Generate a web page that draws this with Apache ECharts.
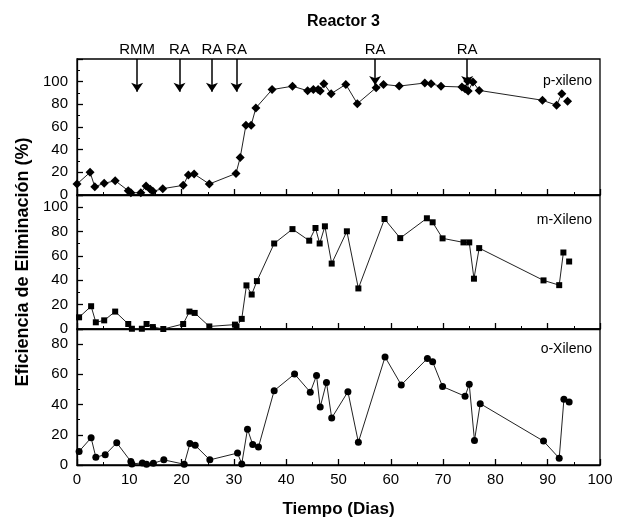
<!DOCTYPE html>
<html>
<head>
<meta charset="utf-8">
<script src="https://cdn.jsdelivr.net/npm/echarts@6/dist/echarts.min.js"></script>
<style>
  html, body { margin: 0; padding: 0; background: #fff; }
  #chart { width: 620px; height: 525px; }
</style>
</head>
<body>
<div id="chart"></div>
<script>
// p-xileno (top panel)
const pDays = [0, 2.5, 3.4, 5.2, 7.3, 9.8, 10.3, 12.2, 13.2, 14, 14.5, 16.4, 20.3, 21.3, 22.4, 25.3, 30.4, 31.2, 32.3, 33.3, 34.2, 37.3, 41.2, 44.1, 45.2, 46.1, 46.5, 47.2, 48.6, 51.4, 53.6, 57.2, 58.6, 61.6, 66.5, 67.7, 69.6, 73.6, 74.2, 74.7, 74.8, 75.7, 76.9, 89, 91.7, 92.7];
const pVals = [9.7, 20, 7.3, 10.3, 12.6, 3.8, 2, 2, 7.9, 5, 3.2, 5.6, 8.5, 17.6, 18.5, 9.7, 19, 33, 61.6, 61.6, 76.8, 93, 96, 92, 93, 93, 91.7, 98.2, 89.4, 97.6, 80.6, 94.7, 97.6, 96.1, 98.8, 98.2, 95.9, 95.3, 93.8, 100.5, 91.7, 99.7, 92.3, 83.6, 79.2, 89.4];
const pLoose = [[93.8, 82.7]];

// m-Xileno (middle panel)
const mDays = [0.4, 2.7, 3.6, 5.2, 7.3, 9.8, 10.5, 12.4, 13.3, 14.5, 16.5, 20.3, 21.5, 22.5, 25.3, 30.2, 30.5, 31.5, 32.4, 33.4, 34.4, 37.7, 41.2, 44.4, 45.6, 46.4, 47.4, 48.7, 51.6, 53.8, 58.8, 61.8, 66.9, 68, 69.9, 73.9, 75, 75.9, 76.9, 89.2, 92.2, 93];
const mVals = [9.6, 18.7, 5.5, 7.1, 14.3, 4.1, 0.2, 0.2, 4.1, 1.6, 0, 4.1, 14.3, 13.2, 2.1, 3.6, 1.7, 8.3, 35.8, 28.3, 39.3, 70.2, 82, 72.5, 82.9, 70.2, 84.3, 53.7, 80.2, 33.3, 90.3, 74.6, 90.9, 87.6, 74.4, 71.1, 71.1, 41.3, 66.4, 39.9, 36, 62.8];
const mLoose = [[94.1, 55.4]];

// o-Xileno (bottom panel)
const oDays = [0.4, 2.7, 3.6, 5.4, 7.6, 10.3, 10.5, 12.5, 13.3, 14.6, 16.6, 20.5, 21.6, 22.6, 25.4, 30.7, 31.5, 32.6, 33.6, 34.7, 37.7, 41.6, 44.6, 45.8, 46.5, 47.7, 48.7, 51.8, 53.8, 58.9, 62, 67, 68, 69.9, 74.2, 75, 76, 77.1, 89.2, 92.2, 93.1, 94.1];
const oVals = [9, 18, 5.2, 6.8, 14.7, 2.3, 0.7, 1.4, 0.5, 1.1, 3.4, 0.5, 14.2, 13, 3.4, 7.9, 0.7, 23.7, 13.5, 11.9, 49.2, 60.2, 48.2, 59.2, 38.3, 54.6, 31.1, 48.5, 15.1, 71.5, 53, 70.5, 68.3, 51.9, 45.5, 53.4, 16.2, 40.6, 15.8, 4.5, 43.5, 41.7];

// arrows over the top panel (day, label, arrow tip value)
const arrowDays = [11.5, 19.6, 25.8, 30.5, 57, 74.6];
const arrowLabels = ['RMM', 'RA', 'RA', 'RA', 'RA', 'RA'];
const arrowTips = [91, 91, 91, 91, 97, 97];

const xTicks = [0, 10, 20, 30, 40, 50, 60, 70, 80, 90, 100];

const FONT = 'Liberation Sans, Arial, sans-serif';
const zip = (a, b) => a.map((d, i) => [d, b[i]]);

const grids = [
    { left: 77, right: 20, top: 59, height: 136 },
    { left: 77, right: 20, top: 195, height: 134 },
    { left: 77, right: 20, top: 329, height: 136 }
];

const xAxisFor = (gi, labels) => ({
    type: 'value',
    gridIndex: gi,
    min: 0, max: 100, interval: 10,
    axisLine: { lineStyle: { color: '#000', width: 1.3 } },
    axisTick: { show: true, inside: true, length: 6, lineStyle: { color: '#000', width: 1.3 } },
    minorTick: { show: true, splitNumber: 2, length: 3, lineStyle: { color: '#000' } },
    splitLine: { show: false },
    axisLabel: { show: labels, color: '#000', fontSize: 15, fontFamily: FONT, margin: 7,
        formatter: v => xTicks.indexOf(v) >= 0 ? v : '' },
    name: labels ? 'Tiempo (Dias)' : '',
    nameLocation: 'middle',
    nameGap: 36,
    nameTextStyle: { color: '#000', fontSize: 17, fontWeight: 'bold', fontFamily: FONT }
});

const yAxisFor = (gi, max, top) => ({
    type: 'value',
    gridIndex: gi,
    min: 0, max: max, interval: 20,
    axisLine: { lineStyle: { color: '#000', width: 1.3 } },
    axisTick: { show: true, inside: true, length: 6, lineStyle: { color: '#000', width: 1.3 } },
    minorTick: { show: true, splitNumber: 2, length: 3, lineStyle: { color: '#000' } },
    splitLine: { show: false },
    axisLabel: { color: '#000', fontSize: 15, fontFamily: FONT, margin: 9,
        formatter: v => (v % 20 === 0 && v <= top) ? v : '' },
    name: gi === 1 ? 'Eficiencia de Eliminación (%)' : '',
    nameLocation: 'middle',
    nameGap: 44,
    nameTextStyle: { color: '#000', fontSize: 18, fontWeight: 'bold', fontFamily: FONT }
});

const lineSeries = (gi, data, symbol, size) => ({
    type: 'line',
    xAxisIndex: gi, yAxisIndex: gi,
    data: data,
    symbol: symbol,
    symbolSize: size,
    showAllSymbol: true,
    itemStyle: { color: '#000', opacity: 1 },
    lineStyle: { color: '#222', width: 1 },
    clip: false
});

const looseSeries = (gi, data, symbol, size) => ({
    type: 'scatter',
    xAxisIndex: gi, yAxisIndex: gi,
    data: data,
    symbol: symbol,
    symbolSize: size,
    itemStyle: { color: '#000', opacity: 1 }
});

const arrowData = arrowDays.map((d, i) => [
    { coord: [d, 120], name: arrowLabels[i] },
    { coord: [d, arrowTips[i]] }
]);

const topSeries = lineSeries(0, zip(pDays, pVals), 'diamond', 9);
topSeries.markLine = {
    silent: true,
    animation: false,
    symbol: ['none', 'arrow'],
    symbolSize: 9,
    lineStyle: { type: 'solid', color: '#000', width: 1.5, opacity: 1 },
    label: { show: true, position: 'start', formatter: p => p.name, color: '#000',
        fontSize: 15, fontFamily: FONT, distance: 2 },
    data: arrowData
};

const panelLabel = (text, top) => ({
    text: text, right: 23, top: top,
    textStyle: { color: '#000', fontSize: 14, fontWeight: 'normal', fontFamily: FONT }
});

const option = {
    backgroundColor: '#fff',
    animation: false,
    title: [
        { text: 'Reactor 3', left: 302, top: 9,
          textStyle: { color: '#000', fontSize: 16, fontWeight: 'bold', fontFamily: FONT } },
        panelLabel('p-xileno', 69),
        panelLabel('m-Xileno', 208),
        panelLabel('o-Xileno', 337)
    ],
    grid: grids.map(g => Object.assign({ show: true, borderColor: '#000', borderWidth: 1.3, backgroundColor: 'transparent' }, g)),
    xAxis: [xAxisFor(0, false), xAxisFor(1, false), xAxisFor(2, true)],
    yAxis: [yAxisFor(0, 120, 100), yAxisFor(1, 110, 100), yAxisFor(2, 90, 80)],
    series: [
        topSeries,
        looseSeries(0, pLoose, 'diamond', 9),
        lineSeries(1, zip(mDays, mVals), 'rect', 6),
        looseSeries(1, mLoose, 'rect', 6),
        lineSeries(2, zip(oDays, oVals), 'circle', 7)
    ]
};

const myChart = echarts.init(document.getElementById('chart'));
myChart.setOption(option);
</script>
</body>
</html>
